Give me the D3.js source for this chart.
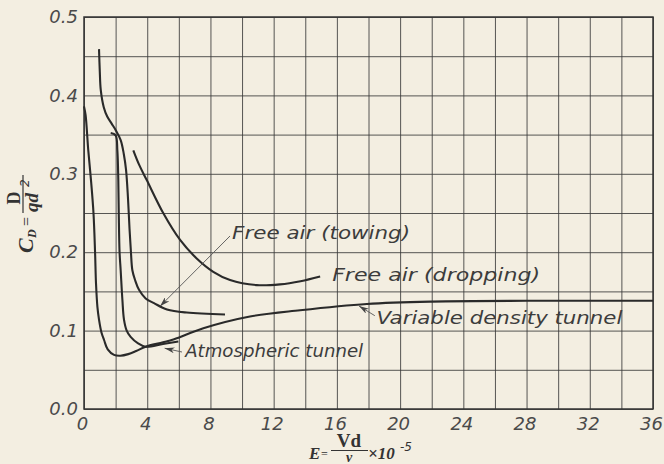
<!DOCTYPE html>
<html><head><meta charset="utf-8">
<script src="https://cdn.jsdelivr.net/npm/d3@7"></script>
<style>body{margin:0;background:#f3eee1}svg{display:block}</style>
</head><body><svg id="c" width="664" height="464"></svg>
<script>
// ---- data ----
const xTicks = [0,4,8,12,16,20,24,28,32,36];
const xTickLabels = ["0","4","8","12","16","20","24","28","32","36"];
const yTicks = [0.0,0.1,0.2,0.3,0.4,0.5];
const yTickLabels = ["0.0","0.1","0.2","0.3","0.4","0.5"];

const vdE  = [0,0.1,0.27,0.45,0.6,0.7,0.76,0.85,0.95,1.1,1.27,1.5,1.9,2.3,2.8,3.3,3.9,5.0,5.7,7.55,10.5,13.67,17.9,22,28,36];
const vdCd = [0.386,0.375,0.33,0.29,0.25,0.2,0.16,0.13,0.114,0.098,0.088,0.076,0.069,0.068,0.070,0.074,0.0795,0.085,0.089,0.103,0.118,0.126,0.134,0.137,0.138,0.138];

const atE  = [1.69,2.0,2.11,2.17,2.2,2.25,2.32,2.43,2.53,2.7,2.95,3.4,3.9,5.0,5.97];
const atCd = [0.352,0.349,0.33,0.292,0.25,0.2,0.177,0.139,0.114,0.1,0.092,0.084,0.0795,0.083,0.086];

const twE  = [0.95,1.0,1.06,1.25,1.47,1.75,2.0,2.32,2.52,2.66,2.78,2.88,2.97,3.06,3.23,3.48,3.9,4.43,5.25,6.5,8.92];
const twCd = [0.459,0.43,0.407,0.385,0.373,0.364,0.356,0.343,0.325,0.305,0.27,0.23,0.2,0.177,0.1645,0.152,0.141,0.135,0.127,0.123,0.1206];

const drE  = [3.12,3.5,3.97,5.02,6.08,7.13,8.18,9.24,10.93,12.4,13.7,14.94];
const drCd = [0.330,0.311,0.292,0.2496,0.2156,0.192,0.175,0.1645,0.158,0.159,0.163,0.169];

const seriesNames = ["Free air (towing)","Free air (dropping)","Variable density tunnel","Atmospheric tunnel"];

// ---- layout ----
const svg = d3.select("#c");
const x = d3.scaleLinear().domain([0,36]).range([84,653]);
const y = d3.scaleLinear().domain([0,0.5]).range([409,17]);
const ink = "#2a2a2a", labInk = "#3c3c3c";

svg.append("rect").attr("width",664).attr("height",464).attr("fill","#f3eee1");

// grid
const gx = svg.append("g").attr("transform",`translate(0,${y(0)})`)
  .call(d3.axisBottom(x).tickValues(d3.range(0,37,2)).tickSize(-(y(0)-y(0.5))).tickFormat(""));
const gy = svg.append("g").attr("transform",`translate(${x(0)},0)`)
  .call(d3.axisLeft(y).tickValues(d3.range(0,0.5001,0.05)).tickSize(-(x(36)-x(0))).tickFormat(""));
[gx,gy].forEach(g=>{g.select(".domain").remove();g.selectAll("line").attr("stroke","#3a3a3a").attr("stroke-width",1).attr("opacity",0.85);});
svg.append("rect").attr("x",x(0)).attr("y",y(0.5)).attr("width",x(36)-x(0)).attr("height",y(0)-y(0.5))
  .attr("fill","none").attr("stroke","#333").attr("stroke-width",1.5);

// tick labels
const ax = svg.append("g").attr("transform",`translate(-2,${y(0)})`)
  .call(d3.axisBottom(x).tickValues(xTicks).tickSize(0).tickPadding(8).tickFormat((d,i)=>xTickLabels[i]));
const ay = svg.append("g").attr("transform",`translate(${x(0)},0)`)
  .call(d3.axisLeft(y).tickValues(yTicks).tickSize(0).tickPadding(6).tickFormat((d,i)=>yTickLabels[i]));
[ax,ay].forEach(g=>{g.select(".domain").remove();g.selectAll("text").attr("font-family","DejaVu Sans").attr("font-style","italic")
  .attr("font-size",18).attr("fill","#4a4a4a");});

// curves
const line = d3.line().x(d=>x(d[0])).y(d=>y(d[1])).curve(d3.curveCatmullRom.alpha(0.5));
[[twE,twCd],[drE,drCd],[vdE,vdCd],[atE,atCd]].forEach(([E,C])=>{
  svg.append("path").datum(E.map((e,i)=>[e,C[i]])).attr("d",line)
    .attr("fill","none").attr("stroke",ink).attr("stroke-width",2.1).attr("stroke-linejoin","round");
});

// arrow marker
svg.append("defs").append("marker").attr("id","arr").attr("viewBox","0 0 10 6").attr("refX",10).attr("refY",3)
  .attr("markerWidth",10).attr("markerHeight",6).attr("markerUnits","userSpaceOnUse").attr("orient","auto")
  .append("path").attr("d","M0,0 L10,3 L0,6 L3,3 Z").attr("fill","#444");

// annotations
const notes = [
  {t:seriesNames[0], e:9.37, c:0.217, w:178, from:[9.24,0.2207], to:[4.81,0.131]},
  {t:seriesNames[1], e:15.7, c:0.163, w:208},
  {t:seriesNames[2], e:18.5, c:0.108, w:246, from:[18.4,0.119], to:[17.4,0.1314]},
  {t:seriesNames[3], e:6.4,  c:0.066, w:178, from:[6.2,0.0727], to:[5.1,0.0775]}
];
notes.forEach(n=>{
  svg.append("text").attr("x",x(n.e)).attr("y",y(n.c)).text(n.t)
    .attr("font-family","DejaVu Sans").attr("font-style","italic").attr("font-size",17)
    .attr("fill",labInk).attr("textLength",n.w).attr("lengthAdjust","spacingAndGlyphs");
  if(n.from){
    svg.append("line").attr("x1",x(n.from[0])).attr("y1",y(n.from[1])).attr("x2",x(n.to[0])).attr("y2",y(n.to[1]))
      .attr("stroke","#555").attr("stroke-width",0.9).attr("marker-end","url(#arr)");
  }
});

// y axis title: C_D = D / (q d^2)
const yt = svg.append("g").attr("transform","translate(33,253) rotate(-90)")
  .attr("font-family","Liberation Serif").attr("font-weight","bold").attr("fill","#333");
yt.append("text").attr("x",0).attr("y",0).attr("font-style","italic").attr("font-size",22).text("C");
yt.append("text").attr("x",15).attr("y",3).attr("font-style","italic").attr("font-size",12).text("D");
yt.append("text").attr("x",27).attr("y",-1).attr("font-size",16).attr("font-weight","normal").text("=");
yt.append("text").attr("x",55).attr("y",-13).attr("text-anchor","middle").attr("font-size",18).text("D");
yt.append("line").attr("x1",40).attr("x2",78).attr("y1",-10).attr("y2",-10).attr("stroke","#333").attr("stroke-width",1.2);
yt.append("text").attr("x",41).attr("y",5).attr("font-style","italic").attr("font-size",19).text("qd");
yt.append("text").attr("x",66).attr("y",-4).attr("font-family","DejaVu Sans").attr("font-weight","normal").attr("font-style","italic").attr("font-size",12).text("2");

// x axis title: E = Vd/ν × 10^-5
const xt = svg.append("g").attr("font-family","Liberation Serif").attr("font-weight","bold").attr("fill","#333");
xt.append("text").attr("x",309).attr("y",459).attr("font-style","italic").attr("font-size",17).text("E");
xt.append("text").attr("x",321).attr("y",458).attr("font-size",12).attr("font-weight","normal").text("=");
xt.append("text").attr("x",349).attr("y",447).attr("text-anchor","middle").attr("font-size",19).text("Vd");
xt.append("line").attr("x1",331).attr("x2",368).attr("y1",450.5).attr("y2",450.5).attr("stroke","#333").attr("stroke-width",1.2);
xt.append("text").attr("x",349).attr("y",462).attr("text-anchor","middle").attr("font-style","italic").attr("font-size",14).text("ν");
xt.append("text").attr("x",368).attr("y",459).attr("font-style","italic").attr("font-size",17).text("×10");
xt.append("text").attr("x",400).attr("y",451).attr("font-family","DejaVu Sans").attr("font-weight","normal").attr("font-style","italic").attr("font-size",12).text("-5");
</script></body></html>
